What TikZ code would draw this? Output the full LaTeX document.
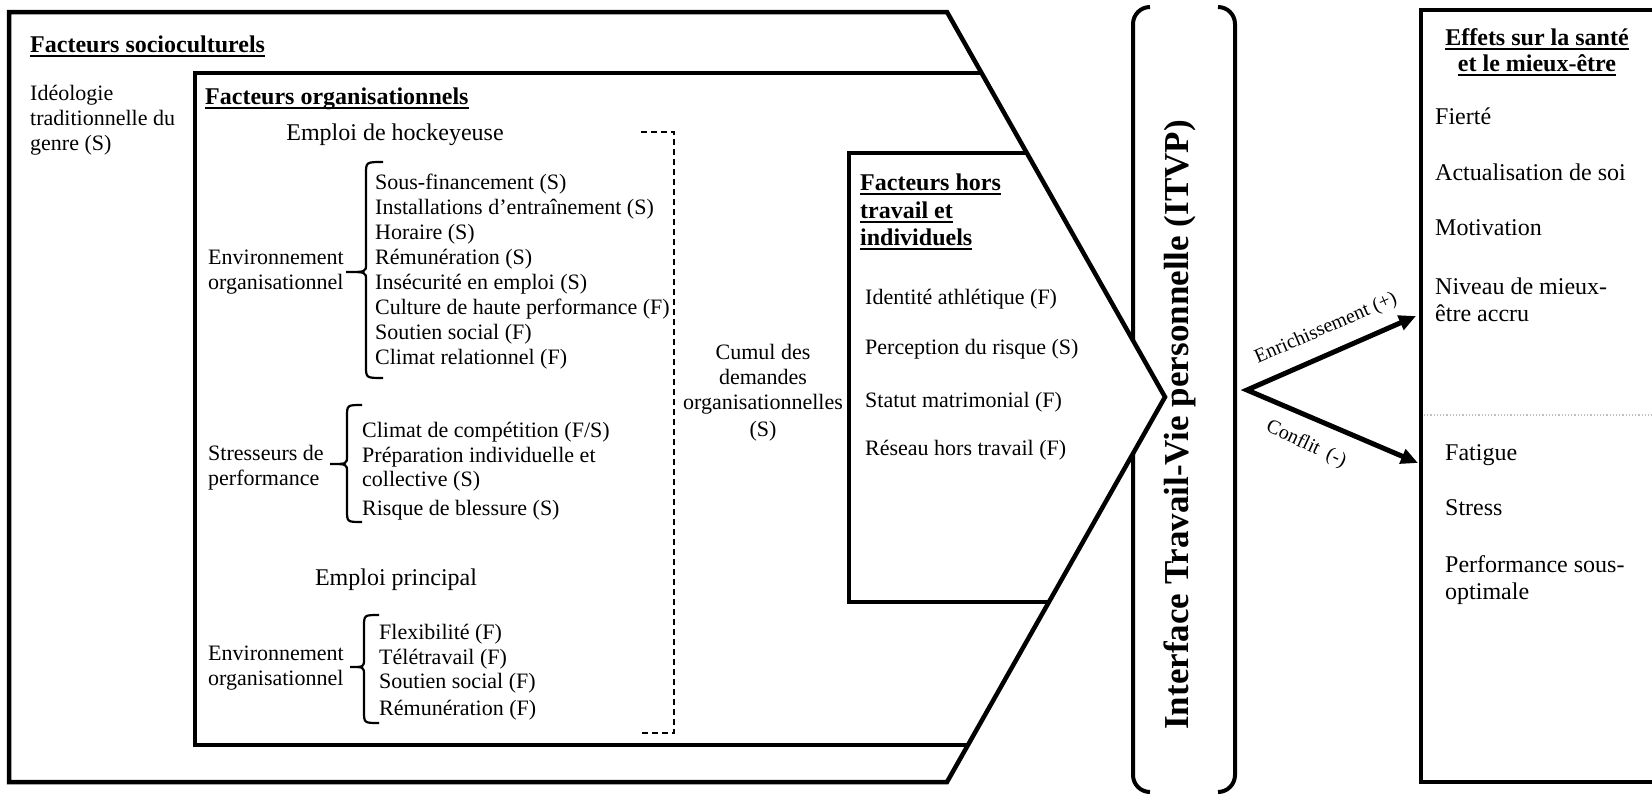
\documentclass[tikz,border=0pt]{standalone}
\usepackage{fontspec}
\setmainfont{Liberation Serif}
\usetikzlibrary{arrows.meta}
% thick underline that sits below the baseline
\newcommand{\ulx}[1]{\setbox0=\hbox{#1}\rlap{\rule[-4.5pt]{\wd0}{2pt}}\box0}
% curly bracket: hook x, spine x, nose x, top y, middle y, bottom y
\newcommand{\bracegroup}[6]{%
  \draw[brace] (#1,#4) .. controls (#2,#4) .. (#2,#4+12) -- (#2,#5-8)
    .. controls (#2,#5) .. (#3,#5) .. controls (#2,#5) .. (#2,#5+8)
    -- (#2,#6-12) .. controls (#2,#6) .. (#1,#6);}

\begin{document}
\begin{tikzpicture}[x=1pt,y=-1pt,
  frame/.style={line width=4.5pt, line join=miter},
  brace/.style={line width=2.2pt},
  txtbase/.style={inner sep=0pt, yshift=-5pt},
  item/.style={txtbase, anchor=mid west, font=\fontsize{22}{25}\selectfont},
  itemc/.style={txtbase, anchor=mid, font=\fontsize{22}{25}\selectfont},
  subhead/.style={txtbase, anchor=mid, font=\fontsize{24}{28}\selectfont},
  ttl/.style={txtbase, anchor=mid west, font=\bfseries\fontsize{24}{28}\selectfont},
  ttlc/.style={txtbase, anchor=mid, font=\bfseries\fontsize{24}{28}\selectfont},
  effitem/.style={txtbase, anchor=mid west, font=\fontsize{24}{28}\selectfont},
  arrowlbl/.style={anchor=mid, inner sep=0pt, font=\fontsize{20}{22}\selectfont},
  link/.style={line width=5pt, line join=miter, {Triangle[length=17pt,width=15pt]}-{Triangle[length=17pt,width=15pt]}}
]
\useasboundingbox (0,0) rectangle (1652,795);

% work / personal life interface: two tall parentheses
\draw[line width=4pt, rounded corners=17pt] (1150,7) -- (1133,7) -- (1133,792) -- (1150,792);
\draw[line width=4pt, rounded corners=17pt] (1218,7) -- (1235,7) -- (1235,792) -- (1218,792);

% chevron of nested factor frames
\draw[frame, fill=white] (9,12) -- (947,12) -- (1165,397) -- (947,782) -- (9,782) -- cycle;
\draw[frame] (981.5,73) -- (195,73) -- (195,745) -- (968,745);
\draw[frame] (1027,153) -- (849,153) -- (849,602) -- (1049,602);

\node[anchor=mid, rotate=90, inner sep=0pt, font=\bfseries\fontsize{35}{40}\selectfont]
  (itvp) at (1186,425) {Interface Travail-Vie personnelle (ITVP)};

% sociocultural factors
\node[ttl] (soc) at (30,45) {\ulx{Facteurs socioculturels}};
\node[item] (soc1) at (30,93) {Idéologie};
\node[item] (soc2) at (30,118) {traditionnelle du};
\node[item] (soc3) at (30,143) {genre (S)};

% organisational factors
\node[ttl] (org) at (205,97) {\ulx{Facteurs organisationnels}};
\node[subhead] (hockey) at (395,133) {Emploi de hockeyeuse};

\node[item] (envA1) at (208,257) {Environnement};
\node[item] (envA2) at (208,282) {organisationnel};
\bracegroup{383}{366}{346}{162}{272}{378}
\foreach \yy/\entrytext [count=\i] in {
  182/Sous-financement (S),
  207/Installations d’entraînement (S),
  232/Horaire (S),
  257/Rémunération (S),
  282/Insécurité en emploi (S),
  307/Culture de haute performance (F),
  332/Soutien social (F),
  357/Climat relationnel (F)}
  \node[item] (ea\i) at (375,\yy) {\entrytext};

\node[item] (str1) at (208,453) {Stresseurs de};
\node[item] (str2) at (208,478) {performance};
\bracegroup{362}{347}{330}{405}{464}{522}
\foreach \yy/\entrytext [count=\i] in {
  430/{Climat de compétition (F/S)},
  455/Préparation individuelle et,
  479/collective (S),
  508/Risque de blessure (S)}
  \node[item] (sp\i) at (362,\yy) {\entrytext};

\node[subhead] (main) at (396,578) {Emploi principal};
\node[item] (envB1) at (208,653) {Environnement};
\node[item] (envB2) at (208,678) {organisationnel};
\bracegroup{379}{364}{350}{615}{667}{723}
\foreach \yy/\entrytext [count=\i] in {
  632/Flexibilité (F),
  657/Télétravail (F),
  681/Soutien social (F),
  708/Rémunération (F)}
  \node[item] (eb\i) at (379,\yy) {\entrytext};

% dashed bracket gathering the organisational demands
\draw[line width=2pt, dash pattern=on 6pt off 4pt] (641,132) -- (674,132) -- (674,733) -- (641,733);
\node[itemc] (cum1) at (763,352) {Cumul des};
\node[itemc] (cum2) at (763,377) {demandes};
\node[itemc] (cum3) at (763,402) {organisationnelles};
\node[itemc] (cum4) at (763,429) {(S)};

% non-work and individual factors
\node[ttl] (ht1) at (860,183) {\ulx{Facteurs hors}};
\node[ttl] (ht2) at (860,211) {\ulx{travail et}};
\node[ttl] (ht3) at (860,238) {\ulx{individuels}};
\node[item] (hi1) at (865,297) {Identité athlétique (F)};
\node[item] (hi2) at (865,347) {Perception du risque (S)};
\node[item] (hi3) at (865,400) {Statut matrimonial (F)};
\node[item] (hi4) at (865,448) {Réseau hors travail (F)};

% health and well-being effects
\draw[frame] (1670,10) -- (1421,10) -- (1421,782) -- (1670,782);
\draw[black!25, line width=1.2pt, dotted] (1424,415) -- (1652,415);
\node[ttlc] (eff1) at (1537,38) {\ulx{Effets sur la santé}};
\node[ttlc] (eff2) at (1537,64) {\ulx{et le mieux-être}};
\node[effitem] (pos1) at (1435,117) {Fierté};
\node[effitem] (pos2) at (1435,173) {Actualisation de soi};
\node[effitem] (pos3) at (1435,228) {Motivation};
\node[effitem] (pos4) at (1435,287) {Niveau de mieux-};
\node[effitem] (pos5) at (1435,314) {être accru};
\node[effitem] (neg1) at (1445,453) {Fatigue};
\node[effitem] (neg2) at (1445,508) {Stress};
\node[effitem] (neg3) at (1445,565) {Performance sous-};
\node[effitem] (neg4) at (1445,592) {optimale};

% enrichment and conflict links
\coordinate (vtx) at (1247,390);
\coordinate (enr) at (1416,316);
\coordinate (con) at (1418,463);
\draw[link] (enr) -- (vtx) -- (con);
\node[arrowlbl, rotate=23.4] (enrlbl) at (1327,331) {Enrichissement (+)};
\node[arrowlbl, rotate=-25] (conlbl) at (1305,447) {Conflit\hspace{9pt}(-)};
\end{tikzpicture}
\end{document}
